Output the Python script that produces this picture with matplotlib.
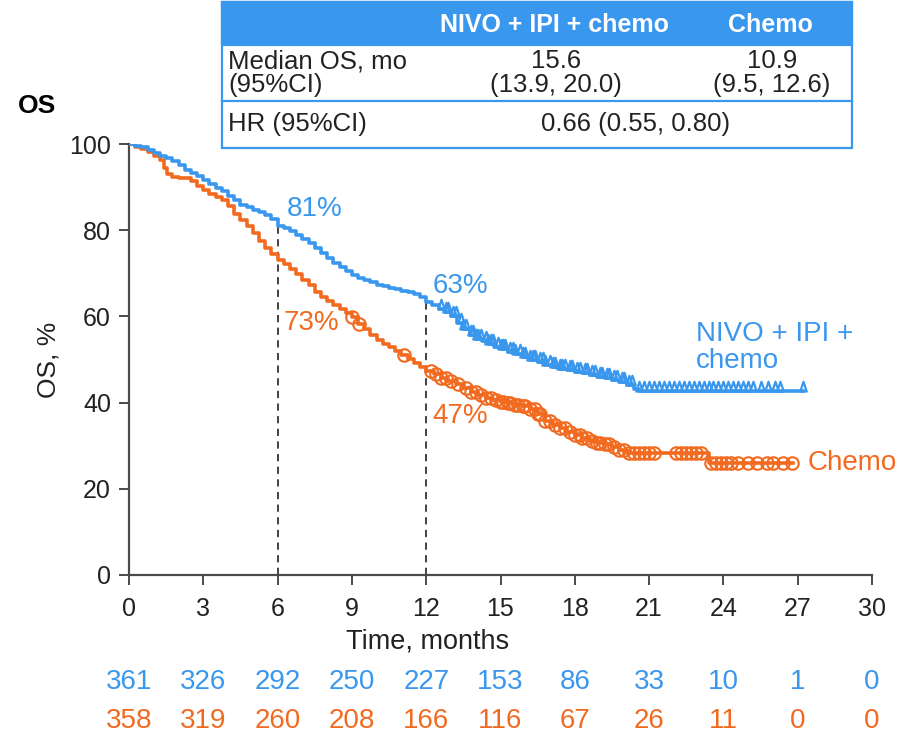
import numpy as np
import matplotlib
matplotlib.use("Agg")
from matplotlib import pyplot as plt
from matplotlib.path import Path

plt.rcParams['font.family'] = ['Liberation Sans', 'DejaVu Sans']

# Kaplan-Meier curves (months, % alive)
nivo_t = [0, 0.25, 0.5, 0.75, 1.0, 1.25, 1.5, 1.75, 2.0, 2.25, 2.5, 2.75, 3.0, 3.25, 3.5,
          3.75, 4.0, 4.25, 4.5, 4.75, 5.0, 5.25, 5.5, 5.75, 6.0, 6.25, 6.5, 6.75, 7.0,
          7.25, 7.5, 7.75, 8.0, 8.25, 8.5, 8.75, 9.0, 9.25, 9.5, 9.75, 10.0, 10.25, 10.5,
          10.75, 11.0, 11.25, 11.5, 11.75, 12.0, 12.25, 12.5, 12.75, 13.0, 13.25, 13.5,
          13.75, 14.0, 14.25, 14.5, 14.75, 15.0, 15.3, 15.6, 15.9, 16.2, 16.5, 16.8, 17.1,
          17.4, 17.7, 18.0, 18.3, 18.6, 18.9, 19.2, 19.5, 19.8, 20.1, 20.4, 20.6, 27.2]
nivo_s = [100, 99.6, 99.2, 98.5, 97.8, 97.3, 96.8, 96.0, 95.2, 94.0, 93.2, 92.5, 91.6,
          90.8, 89.8, 89.0, 88.0, 87.0, 85.9, 85.3, 84.8, 84.2, 83.5, 82.5, 81.0, 80.5,
          79.7, 78.9, 78.0, 77.0, 75.8, 74.6, 73.5, 72.5, 71.5, 70.6, 69.6, 69.0, 68.4,
          67.9, 67.4, 67.0, 66.6, 66.3, 66.0, 65.7, 65.3, 64.5, 63.3, 62.6, 61.8, 61.0,
          60.0, 58.5, 57.0, 55.6, 54.8, 54.2, 53.6, 53.0, 52.4, 51.7, 51.2, 50.6, 50.0,
          49.4, 48.8, 48.3, 47.9, 47.5, 47.2, 46.8, 46.4, 46.0, 45.6, 45.2, 44.8, 44.0,
          43.2, 42.6, 42.6]
nivo_cens = [12.6, 12.8, 12.9, 13.1, 13.2, 13.4, 13.5, 13.6, 13.8, 13.9, 14.0, 14.1, 14.2,
             14.4, 14.5, 14.6, 14.7, 14.9, 15.0, 15.1, 15.2, 15.4, 15.5, 15.6, 15.8, 15.9,
             16.0, 16.2, 16.3, 16.4, 16.6, 16.7, 16.8, 17.0, 17.1, 17.2, 17.4, 17.5, 17.6,
             17.8, 17.9, 18.1, 18.2, 18.4, 18.5, 18.7, 18.8, 19.0, 19.1, 19.3, 19.4, 19.6,
             19.7, 19.9, 20.0, 20.2, 20.3, 20.6, 20.8, 21.0, 21.2, 21.4, 21.6, 21.8, 22.0,
             22.2, 22.4, 22.6, 22.8, 23.0, 23.2, 23.4, 23.6, 23.8, 24.0, 24.2, 24.4, 24.6,
             24.8, 25.0, 25.2, 25.5, 25.8, 26.1, 26.3, 27.2]

chemo_t = [0, 0.25, 0.5, 0.75, 1.0, 1.25, 1.4, 1.55, 1.75, 2.0, 2.25, 2.5, 2.75, 3.0,
           3.25, 3.5, 3.75, 4.0, 4.25, 4.5, 4.75, 5.0, 5.25, 5.5, 5.75, 6.0, 6.25, 6.5,
           6.75, 7.0, 7.25, 7.5, 7.75, 8.0, 8.25, 8.5, 8.75, 9.0, 9.25, 9.5, 9.75, 10.0,
           10.25, 10.5, 10.75, 11.0, 11.25, 11.5, 11.75, 12.0, 12.3, 12.6, 12.9, 13.2,
           13.5, 13.8, 14.1, 14.4, 14.7, 15.0, 15.3, 15.6, 15.9, 16.2, 16.5, 16.8, 17.1,
           17.4, 17.7, 18.0, 18.3, 18.6, 18.9, 19.2, 19.5, 19.8, 20.1, 23.4, 26.8]
chemo_s = [100, 99.4, 98.8, 98.2, 97.3, 96.3, 94.5, 93.0, 92.4, 92.2, 92.0, 91.5, 90.3,
           89.4, 88.5, 87.7, 86.9, 85.5, 83.8, 82.4, 81.0, 79.4, 77.5, 75.8, 74.5, 73.2,
           72.2, 71.0, 69.8, 68.5, 67.2, 65.6, 64.5, 63.5, 62.6, 61.8, 60.8, 59.8, 58.3,
           57.0, 55.8, 54.6, 53.6, 52.8, 51.9, 51.0, 50.2, 49.3, 48.3, 47.3, 46.6, 45.8,
           45.0, 44.2, 43.3, 42.5, 41.8, 41.0, 40.5, 40.2, 39.9, 39.5, 39.1, 38.5, 37.3,
           35.8, 34.9, 34.0, 33.2, 32.4, 31.7, 31.1, 30.7, 30.3, 29.7, 29.0, 28.2, 26.0,
           26.0]
chemo_cens = [9.0, 9.3, 11.1, 12.2, 12.4, 12.6, 12.8, 13.0, 13.3, 13.6, 13.8, 14.0, 14.2,
              14.4, 14.6, 14.8, 15.0, 15.1, 15.3, 15.4, 15.6, 15.7, 15.9, 16.0, 16.2, 16.4,
              16.5, 16.6, 16.8, 17.0, 17.2, 17.4, 17.6, 17.8, 18.0, 18.2, 18.3, 18.5, 18.7,
              18.9, 19.0, 19.2, 19.4, 19.6, 19.8, 20.0, 20.2, 20.4, 20.6, 20.8, 21.0, 21.2,
              22.1, 22.3, 22.5, 22.7, 22.9, 23.1, 23.5, 23.7, 23.9, 24.1, 24.3, 24.6, 25.0,
              25.35, 25.75, 26.0, 26.4, 26.77]

ticks = [0, 3, 6, 9, 12, 15, 18, 21, 24, 27, 30]
risk_nivo = [361, 326, 292, 250, 227, 153, 86, 33, 10, 1, 0]
risk_chemo = [358, 319, 260, 208, 166, 116, 67, 26, 11, 0, 0]

table_head = ["NIVO + IPI + chemo", "Chemo"]
median_os = ["15.6\n(13.9, 20.0)", "10.9\n(9.5, 12.6)"]
hr_text = "0.66 (0.55, 0.80)"

BLUE = "#3A97EE"
ORANGE = "#F26A1F"
GREY = "#4a4a4a"
TXT = "#222222"


def step_at(t, s, x):
    idx = np.searchsorted(t, x, side='right') - 1
    return np.asarray(s)[idx]


fig = plt.figure(figsize=(9.09, 7.32), dpi=100)
ax = fig.add_axes([129 / 909, 1 - 575 / 732, 743 / 909, 431 / 732])

ax.step(nivo_t, nivo_s, where='post', color=BLUE, lw=2.6, zorder=4)
ax.step(chemo_t, chemo_s, where='post', color=ORANGE, lw=2.6, zorder=3)

# open triangles sitting on the curve for censored patients
tri = Path([(-0.4, 0), (0.4, 0), (0, 1.2), (-0.4, 0)],
           [Path.MOVETO, Path.LINETO, Path.LINETO, Path.CLOSEPOLY])
ax.plot(nivo_cens, step_at(nivo_t, nivo_s, nivo_cens), ls='none', marker=tri,
        ms=14, mfc='none', mec=BLUE, mew=1.6, zorder=4)
ax.plot(chemo_cens, step_at(chemo_t, chemo_s, chemo_cens), ls='none', marker='o',
        ms=9, mfc='none', mec=ORANGE, mew=1.5, zorder=3)

# landmark lines at 6 and 12 months
for m in (6, 12):
    ax.plot([m, m], [0, step_at(nivo_t, nivo_s, m)], color='#333333', lw=1.3,
            dashes=(4, 3), zorder=2)

ax.text(6.35, 85, "81%", color=BLUE, fontsize=20, va='center')
ax.text(12.25, 67, "63%", color=BLUE, fontsize=20, va='center')
ax.text(6.25, 58.5, "73%", color=ORANGE, fontsize=20, va='center')
ax.text(12.25, 37, "47%", color=ORANGE, fontsize=20, va='center')
ax.text(22.9, 52.8, "NIVO + IPI +\nchemo", color=BLUE, fontsize=20, va='center',
        linespacing=1.05)
ax.text(27.4, 26, "Chemo", color=ORANGE, fontsize=20, va='center')

ax.set_xlim(0, 30)
ax.set_ylim(0, 100)
ax.set_xticks(ticks)
ax.set_yticks([0, 20, 40, 60, 80, 100])
for sp in ('top', 'right'):
    ax.spines[sp].set_visible(False)
for sp in ('left', 'bottom'):
    ax.spines[sp].set_color(GREY)
    ax.spines[sp].set_linewidth(1.6)
ax.tick_params(direction='out', length=7, width=1.4, color=GREY, labelsize=18,
               labelcolor=TXT)
ax.tick_params(axis='x', pad=9)
ax.tick_params(axis='y', pad=6)
ax.set_xlabel("Time, months", fontsize=19.5, color=TXT)
ax.xaxis.set_label_coords(0.402, -0.125)
ax.set_ylabel("OS, %", fontsize=19, color=TXT, labelpad=6)

# numbers at risk
for x, a, b in zip(ticks, risk_nivo, risk_chemo):
    ax.text(x, -24.9, str(a), color=BLUE, fontsize=20, ha='center', va='center',
            clip_on=False)
    ax.text(x, -33.8, str(b), color=ORANGE, fontsize=20, ha='center', va='center',
            clip_on=False)

# overlay in pixel coordinates for the title and the table
ov = fig.add_axes([0, 0, 1, 1], zorder=5)
ov.set_xlim(0, 909)
ov.set_ylim(732, 0)
ov.axis('off')
ov.patch.set_alpha(0)

ov.text(18, 106, "OS", fontsize=19, fontweight='bold', va='center', ha='left')

ov.add_patch(plt.Rectangle((222, 2), 630, 146, facecolor='white', edgecolor=BLUE, lw=1.6))
ov.add_patch(plt.Rectangle((222, 2), 630, 43, facecolor=BLUE, edgecolor=BLUE, lw=1.6))
ov.plot([222, 852], [101, 101], color=BLUE, lw=1.6)

ov.text(555, 25, table_head[0], color='white', fontsize=18, fontweight='bold',
        ha='center', va='center')
ov.text(770, 25, table_head[1], color='white', fontsize=18, fontweight='bold',
        ha='center', va='center')
ov.text(228, 73, "Median OS, mo\n(95%CI)", fontsize=18.5, ha='left', va='center',
        linespacing=0.95, color=TXT)
ov.text(556, 73, median_os[0], fontsize=18.5, ha='center', va='center',
        linespacing=0.95, color=TXT)
ov.text(772, 73, median_os[1], fontsize=18.5, ha='center', va='center',
        linespacing=0.95, color=TXT)
ov.text(228, 124, "HR (95%CI)", fontsize=18.5, ha='left', va='center', color=TXT)
ov.text(636, 124, hr_text, fontsize=18.5, ha='center', va='center', color=TXT)

fig.savefig("out.png", dpi=100)
